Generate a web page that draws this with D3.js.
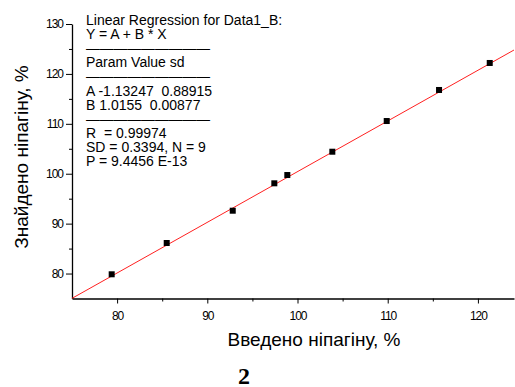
<!DOCTYPE html>
<html>
<head>
<meta charset="utf-8">
<script src="https://cdn.jsdelivr.net/npm/d3@7"></script>
<style>
  html, body { margin: 0; padding: 0; background: #fff; }
  svg { display: block; }
  text { font-family: Arial, "Liberation Sans", sans-serif; fill: #000; }
</style>
</head>
<body>
<svg id="chart" width="515" height="387"></svg>
<script>
// Added vs. found nipagin, %
const added = [79.40, 85.50, 92.82, 97.43, 98.87, 103.86, 109.89, 115.69, 121.31];
const found = [79.85, 86.12, 92.59, 98.08, 99.74, 104.41, 110.56, 116.78, 122.19];

// Linear fit Y = A + B * X
const fitA = -1.13247;
const fitB = 1.0155;

const xMajor = [80, 90, 100, 110, 120];
const xMinor = [85, 95, 105, 115];
const yMajor = [80, 90, 100, 110, 120, 130];
const yMinor = [85, 95, 105, 115, 125];

const reportLines = [
  "Linear Regression for Data1_B:",
  "Y = A + B * X",
  null,
  "Param Value sd",
  null,
  "A -1.13247  0.88915",
  "B 1.0155  0.00877",
  null,
  "R  = 0.99974",
  "SD = 0.3394, N = 9",
  "P = 9.4456 E-13"
];

const xTitle = "Введено ніпагіну, %";
const yTitle = "Знайдено ніпагіну, %";
const panelLabel = "2";

const svg = d3.select("#chart");
const plotL = 72, plotR = 514, plotT = 24, plotB = 298.5;

const x = d3.scaleLinear().domain([75, 124]).range([plotL, plotR]);
const y = d3.scaleLinear().domain([75, 130]).range([plotB, plotT]);

// axes: major ticks with labels, minor ticks without
const gx = svg.append("g").attr("transform", `translate(0,${plotB})`);
gx.call(d3.axisBottom(x).tickValues(xMajor).tickSize(5).tickSizeOuter(0).tickPadding(8).tickFormat(d3.format("d")));
gx.append("g").call(d3.axisBottom(x).tickValues(xMinor).tickSize(3).tickSizeOuter(0).tickFormat(""))
  .select(".domain").remove();

const gy = svg.append("g").attr("transform", `translate(${plotL},0)`);
gy.call(d3.axisLeft(y).tickValues(yMajor).tickSize(6).tickSizeOuter(0).tickPadding(3).tickFormat(d3.format("d")));
gy.append("g").call(d3.axisLeft(y).tickValues(yMinor).tickSize(3).tickSizeOuter(0).tickFormat(""))
  .select(".domain").remove();

svg.selectAll(".domain").attr("stroke", "#000").attr("stroke-width", 1.3);
svg.selectAll(".tick line").attr("stroke", "#000").attr("stroke-width", 1);
svg.selectAll(".tick text")
  .attr("font-family", "Arial, 'Liberation Sans', sans-serif")
  .attr("font-size", 12)
  .attr("letter-spacing", "-1px")
  .attr("fill", "#000");
gx.selectAll(".tick text").attr("dy", "0.71em");

// regression line across the x range
const xDom = x.domain();
svg.append("line")
  .attr("x1", x(xDom[0])).attr("y1", y(fitA + fitB * xDom[0]))
  .attr("x2", x(xDom[1])).attr("y2", y(fitA + fitB * xDom[1]))
  .attr("stroke", "#ff2020").attr("stroke-width", 1);

// data points
const sq = 6;
svg.append("g").selectAll("rect")
  .data(added.map((v, i) => [v, found[i]]))
  .join("rect")
  .attr("x", d => x(d[0]) - sq / 2)
  .attr("y", d => y(d[1]) - sq / 2)
  .attr("width", sq).attr("height", sq)
  .attr("fill", "#000");

// fit report block
const rep = svg.append("g").attr("transform", "translate(86,25)");
rep.selectAll("text")
  .data(reportLines)
  .join("text")
  .attr("x", 0)
  .attr("y", (d, i) => i * 14.1)
  .attr("font-size", 14)
  .style("white-space", "pre")
  .each(function (d) {
    const t = d3.select(this);
    if (d === null) {
      t.text("—".repeat(9))
        .attr("textLength", 124)
        .attr("lengthAdjust", "spacingAndGlyphs");
    } else {
      t.text(d);
    }
  });

// axis titles
svg.append("text")
  .attr("x", 314).attr("y", 346)
  .attr("text-anchor", "middle")
  .attr("font-size", 19)
  .text(xTitle);

svg.append("text")
  .attr("transform", "translate(28,157) rotate(-90)")
  .attr("text-anchor", "middle")
  .attr("font-size", 19)
  .text(yTitle);

svg.append("text")
  .attr("x", 244).attr("y", 384)
  .attr("text-anchor", "middle")
  .attr("font-weight", "bold")
  .attr("font-size", 24)
  .style("font-family", "'Liberation Serif', 'Times New Roman', serif")
  .text(panelLabel);
</script>
</body>
</html>
